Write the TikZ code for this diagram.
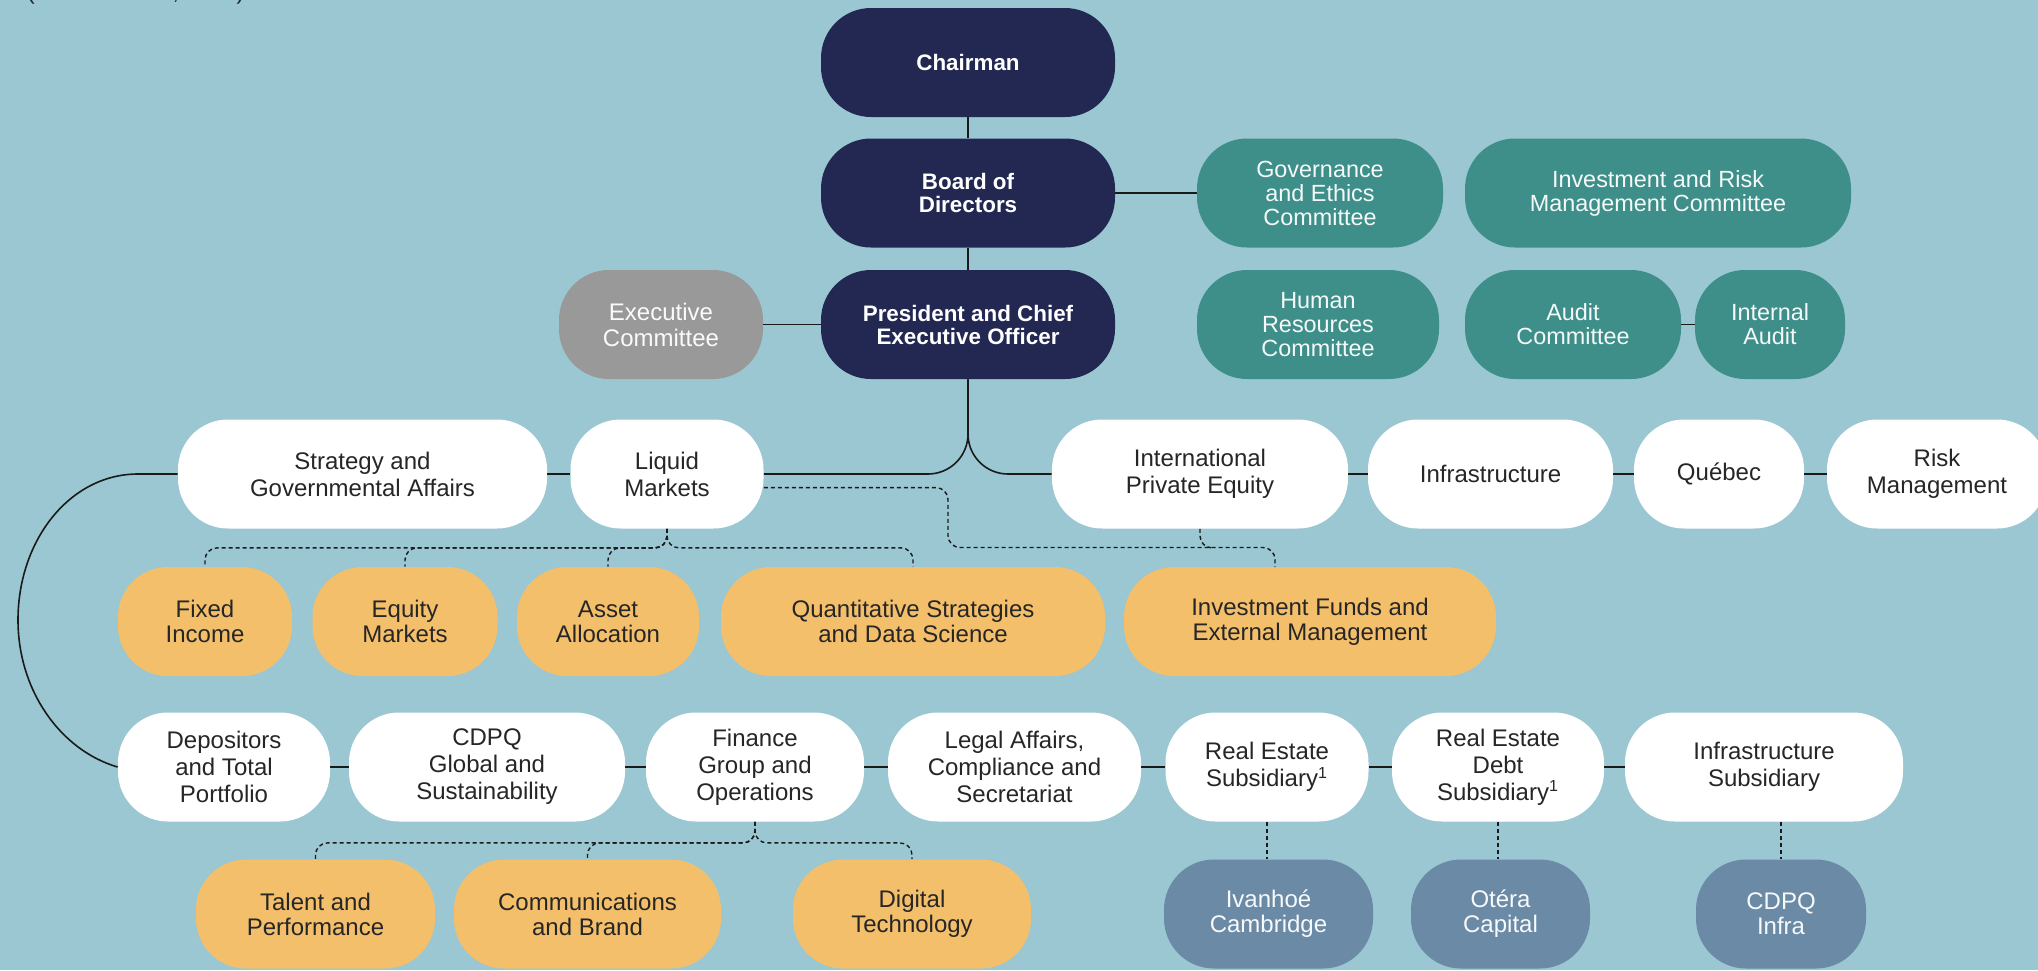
\documentclass[tikz,border=0pt]{standalone}
\usepackage{fontspec}
\setmainfont{Liberation Sans}
\usepackage{xcolor}
\usepackage{tikz}

\definecolor{bgblue}{HTML}{9AC7D2}
\definecolor{cnavy}{HTML}{222852}
\definecolor{cteal}{HTML}{3E8F89}
\definecolor{cgrey}{HTML}{999999}
\definecolor{corange}{HTML}{F4BF6B}
\definecolor{cslate}{HTML}{6A8AA6}
\definecolor{cline}{HTML}{1A1A1A}
\definecolor{ctext}{HTML}{262626}

\begin{document}
\begin{tikzpicture}[x=0.5pt, y=-0.5pt,
    pill/.style={rectangle, rounded corners=25pt, minimum height=54.5pt, inner sep=0pt, align=center},
    navybox/.style={pill, fill=cnavy, text=white, font=\fontsize{11.2}{11.5}\selectfont\bfseries},
    greybox/.style={pill, fill=cgrey, text=white!95!cgrey, font=\fontsize{12}{13}\selectfont},
    tealbox/.style={pill, fill=cteal, text=white!95!cteal, font=\fontsize{11.7}{12}\selectfont},
    whitebox/.style={pill, fill=white, text=ctext, font=\fontsize{12}{13.5}\selectfont},
    orangebox/.style={pill, fill=corange, text=ctext, font=\fontsize{12}{12.5}\selectfont},
    slatebox/.style={pill, fill=cslate, text=white!95!cslate, font=\fontsize{12}{12.5}\selectfont},
    link/.style={draw=cline, line width=0.8pt},
    dotlink/.style={draw=cline, line width=0.7pt, dash pattern=on 2pt off 1.5pt, rounded corners=6pt}]
      \useasboundingbox (0,0) rectangle (2038,970);
      \fill[bgblue] (0,0) rectangle (2038,970);
      \node[anchor=base west, text=ctext, font=\fontsize{11.5}{12}\selectfont] (asof) at (20,-1) {(December 31, 2023)};

      % governance
      \node[navybox, minimum width=147pt] (ch) at (968,62.5) {Chairman};
      \node[navybox, minimum width=147pt] (bd) at (968,193) {Board of\\Directors};
      \node[navybox, minimum width=147pt] (pc) at (968,324.5) {President and Chief\\Executive Officer};
      \node[greybox, minimum width=102pt] (ec) at (661,324.5) {Executive\\Committee};
      \node[tealbox, minimum width=123pt] (ge) at (1320,193) {Governance\\and Ethics\\Committee};
      \node[tealbox, minimum width=193pt] (ir) at (1658,193) {Investment and Risk\\Management Committee};
      \node[tealbox, minimum width=121pt] (hr) at (1318,324.5) {Human\\Resources\\Committee};
      \node[tealbox, minimum width=108pt] (ac) at (1573,324.5) {Audit\\Committee};
      \node[tealbox, minimum width=75pt] (ia) at (1770,324.5) {Internal\\Audit};

      % first line of units
      \node[whitebox, minimum width=184.5pt] (sg) at (362.5,474) {Strategy and\\Governmental Affairs};
      \node[whitebox, minimum width=96.5pt] (lm) at (667,474) {Liquid\\Markets};
      \node[whitebox, minimum width=148pt] (ipe) at (1200,474) {International\\Private Equity};
      \node[whitebox, minimum width=122.5pt] (inf) at (1490.5,474) {Infrastructure};
      \node[whitebox, minimum width=85pt] (qc) at (1719,474) {Québec};
      \node[whitebox, minimum width=110pt] (rm) at (1937,474) {Risk\\Management};

      \node[orangebox, minimum width=87pt] (fi) at (205,621.5) {Fixed\\Income};
      \node[orangebox, minimum width=92.5pt] (em) at (405,621.5) {Equity\\Markets};
      \node[orangebox, minimum width=91pt] (aa) at (608,621.5) {Asset\\Allocation};
      \node[orangebox, minimum width=192pt] (qs) at (913,621.5) {Quantitative Strategies\\and Data Science};
      \node[orangebox, minimum width=186pt] (ife) at (1310,621.5) {Investment Funds and\\External Management};

      % second line of units
      \node[whitebox, minimum width=106pt] (dtp) at (224,767) {Depositors\\and Total\\Portfolio};
      \node[whitebox, minimum width=138pt] (cgs) at (487,767) {CDPQ\\Global and\\Sustainability};
      \node[whitebox, minimum width=109pt] (fgo) at (755,767) {Finance\\Group and\\Operations};
      \node[whitebox, minimum width=126.5pt] (lcs) at (1014.5,767) {Legal Affairs,\\Compliance and\\Secretariat};
      \node[whitebox, minimum width=101.5pt] (res) at (1267,767) {Real Estate\\Subsidiary\textsuperscript{1}};
      \node[whitebox, minimum width=106pt] (red) at (1498,767) {Real Estate\\Debt\\Subsidiary\textsuperscript{1}};
      \node[whitebox, minimum width=139pt] (isb) at (1764,767) {Infrastructure\\Subsidiary};

      \node[orangebox, minimum width=119.5pt] (tap) at (315.5,914) {Talent and\\Performance};
      \node[orangebox, minimum width=133.5pt] (cab) at (587.5,914) {Communications\\and Brand};
      \node[orangebox, minimum width=119pt] (dt) at (912,914) {Digital\\Technology};
      \node[slatebox, minimum width=104.5pt] (ivc) at (1268.5,914) {Ivanhoé\\Cambridge};
      \node[slatebox, minimum width=89.5pt] (otc) at (1500.5,914) {Otéra\\Capital};
      \node[slatebox, minimum width=85pt] (cdi) at (1781,914) {CDPQ\\Infra};

      \coordinate (lmbend) at (948,547.5);
      \coordinate (ifin) at (1275,567);

      % solid reporting lines
      \draw[link] (ch.south) -- (bd.north);
      \draw[link] (bd.south) -- (pc.north);
      \draw[link] (bd.east) -- (ge.west);
      \draw[link] (ec.east) -- (pc.west);
      \draw[link] (ac.east) -- (ia.west);
      \draw[link, rounded corners=20pt] (pc.south) |- (lm.east);
      \draw[link, rounded corners=20pt] (pc.south) |- (ipe.west);
      \draw[link] (sg.east) -- (lm.west);
      \draw[link] (ipe.east) -- (inf.west);
      \draw[link] (inf.east) -- (qc.west);
      \draw[link] (qc.east) -- (rm.west);
      \draw[link] (sg.west) -- (138,474) .. controls (70,474) and (18,540) .. (18,620)
        .. controls (18,690) and (60,750) .. (dtp.west);
      \draw[link] (dtp.east) -- (cgs.west);
      \draw[link] (cgs.east) -- (fgo.west);
      \draw[link] (fgo.east) -- (lcs.west);
      \draw[link] (lcs.east) -- (res.west);
      \draw[link] (res.east) -- (red.west);
      \draw[link] (red.east) -- (isb.west);

      % dashed lines
      \draw[dotlink] (lm.south) -- ++(0,19) -| (fi.north);
      \draw[dotlink] (lm.south) -- ++(0,19) -| (em.north);
      \draw[dotlink] (lm.south) -- ++(0,19) -| (aa.north);
      \draw[dotlink] (lm.south) -- ++(0,19) -| (qs.north);
      \draw[dotlink] (lm.-8) -| (lmbend) -| (ifin);
      \draw[dotlink] (ipe.south) -- ++(0,19) -- ++(14,0);
      \draw[dotlink] (fgo.south) -- ++(0,21) -| (tap.north);
      \draw[dotlink] (fgo.south) -- ++(0,21) -| (cab.north);
      \draw[dotlink] (fgo.south) -- ++(0,21) -| (dt.north);
      \draw[dotlink] (res.south) -- (res.south |- ivc.north);
      \draw[dotlink] (red.south) -- (red.south |- otc.north);
      \draw[dotlink] (cdi.north |- isb.south) -- (cdi.north);
    \end{tikzpicture}
\end{document}
